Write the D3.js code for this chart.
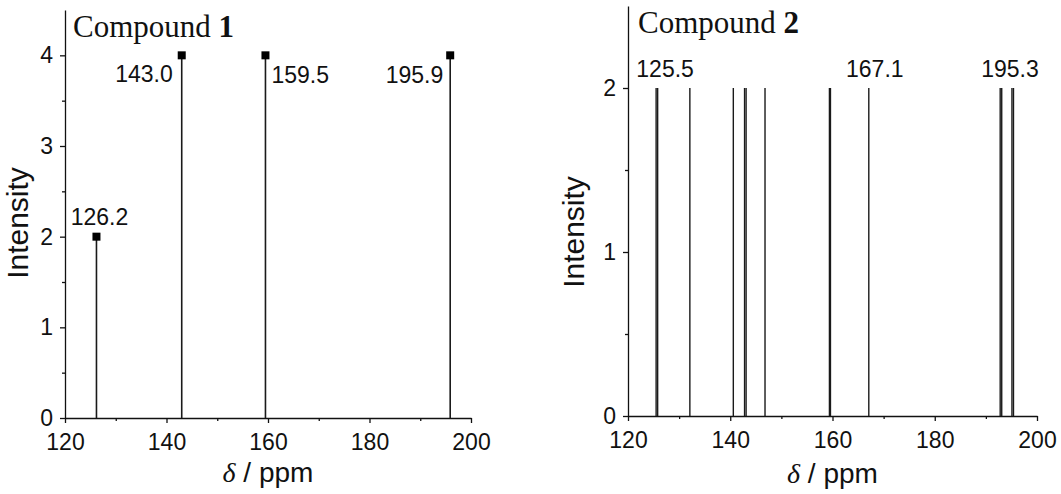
<!DOCTYPE html>
<html>
<head>
<meta charset="utf-8">
<script src="https://cdn.jsdelivr.net/npm/d3@7/dist/d3.min.js"></script>
<style>
  html, body { margin: 0; padding: 0; background: #fff; }
  svg { display: block; }
  .tick text { font-family: "Liberation Sans", Arial, sans-serif; font-size: 23px; fill: #111; }
</style>
</head>
<body>
<svg id="chart" width="1061" height="494"></svg>
<script>
// ---------- data ----------
const c1Shifts = [126.2, 143.0, 159.5, 195.9];
const c1Intensity = [2, 4, 4, 4];
const c1Labels = ["126.2", "143.0", "159.5", "195.9"];

const c2Shifts = [125.5, 125.8, 132.1, 140.6, 142.8, 143.1, 146.8, 159.4, 159.6, 167.1, 192.8, 193.1, 195.1, 195.4];
const c2Intensity = [2, 2, 2, 2, 2, 2, 2, 2, 2, 2, 2, 2, 2, 2];
const c2LabelValues = [125.5, 167.1, 195.3];
const c2Labels = ["125.5", "167.1", "195.3"];

const xMajorTicks = [120, 140, 160, 180, 200];
const xMinorTicks = [130, 150, 170, 190];
const y1MajorTicks = [0, 1, 2, 3, 4];
const y1MinorTicks = [0.5, 1.5, 2.5, 3.5];
const y2MajorTicks = [0, 1, 2];
const y2MinorTicks = [0.5, 1.5];

// ---------- drawing ----------
const svg = d3.select("#chart");
const sans = '"Liberation Sans", Arial, sans-serif';
const serif = '"Liberation Serif", "Times New Roman", serif';

function panel(opts) {
  const x = d3.scaleLinear().domain([120, 200]).range([opts.left, opts.right]);
  const y = d3.scaleLinear().domain([0, opts.yMax]).range([opts.bottom, opts.top]);
  const g = svg.append("g");

  // x axis
  g.append("g").attr("transform", `translate(0,${opts.bottom})`)
    .call(d3.axisBottom(x).tickValues(xMajorTicks).tickSize(5).tickSizeOuter(0).tickPadding(11).tickFormat(d3.format("d")))
    .call(s => s.selectAll("path,line").attr("stroke", "#111").attr("stroke-width", 1.3));
  g.append("g").attr("transform", `translate(0,${opts.bottom})`)
    .call(d3.axisBottom(x).tickValues(xMinorTicks).tickSize(3).tickSizeOuter(0).tickFormat(""))
    .call(s => { s.select("path").remove(); s.selectAll("line").attr("stroke", "#111").attr("stroke-width", 1.3); });

  // y axis
  g.append("g").attr("transform", `translate(${opts.left},0)`)
    .call(d3.axisLeft(y).tickValues(opts.yMajor).tickSize(5).tickSizeOuter(0).tickPadding(7).tickFormat(d3.format("d")))
    .call(s => s.selectAll("path,line").attr("stroke", "#111").attr("stroke-width", 1.3));
  g.append("g").attr("transform", `translate(${opts.left},0)`)
    .call(d3.axisLeft(y).tickValues(opts.yMinor).tickSize(3).tickSizeOuter(0).tickFormat(""))
    .call(s => { s.select("path").remove(); s.selectAll("line").attr("stroke", "#111").attr("stroke-width", 1.3); });

  // stems
  const pts = opts.shifts.map((v, i) => ({ v, h: opts.intens[i] }));
  g.append("g").selectAll("line").data(pts).join("line")
    .attr("x1", d => x(d.v)).attr("x2", d => x(d.v))
    .attr("y1", y(0)).attr("y2", d => y(d.h))
    .attr("stroke", "#1a1a1a").attr("stroke-width", opts.stemWidth);

  if (opts.markers) {
    const s = 8;
    g.append("g").selectAll("rect").data(pts).join("rect")
      .attr("x", d => x(d.v) - s / 2).attr("y", d => y(d.h) - s / 2)
      .attr("width", s).attr("height", s).attr("fill", "#000");
  }

  // compound title
  const t = g.append("text").attr("x", opts.left + opts.titleDx).attr("y", opts.titleY)
    .attr("font-family", serif).attr("font-size", 31).attr("fill", "#111");
  t.append("tspan").text("Compound ");
  t.append("tspan").attr("font-weight", "bold").text(opts.num);

  // axis titles
  const xt = g.append("text").attr("x", (opts.left + opts.right) / 2).attr("y", opts.xTitleY)
    .attr("text-anchor", "middle").attr("font-family", sans).attr("font-size", 28).attr("fill", "#111");
  xt.append("tspan").attr("font-family", serif).attr("font-style", "italic").text("δ");
  xt.append("tspan").text(" / ppm");

  g.append("text").attr("transform", `translate(${opts.yTitleX},${opts.yTitleY}) rotate(-90)`)
    .attr("text-anchor", "middle").attr("font-family", sans).attr("font-size", 30).attr("fill", "#111")
    .text("Intensity");

  return { x, y, g };
}

// Panel 1
const p1 = panel({
  left: 65, right: 471, top: 10, bottom: 418, yMax: 4.5,
  yMajor: y1MajorTicks, yMinor: y1MinorTicks,
  shifts: c1Shifts, intens: c1Intensity, stemWidth: 1.6, markers: true,
  num: "1", titleDx: 8, titleY: 37, xTitleY: 482, yTitleX: 28, yTitleY: 223
});
const lab1 = [
  { dx: 3, dy: -12, anchor: "middle" },
  { dx: -9, dy: 27, anchor: "end" },
  { dx: 6, dy: 28, anchor: "start" },
  { dx: -7, dy: 28, anchor: "end" }
];
p1.g.append("g").selectAll("text").data(c1Labels).join("text")
  .attr("x", (d, i) => p1.x(c1Shifts[i]) + lab1[i].dx)
  .attr("y", (d, i) => p1.y(c1Intensity[i]) + lab1[i].dy)
  .attr("text-anchor", (d, i) => lab1[i].anchor)
  .attr("font-family", sans).attr("font-size", 23).attr("fill", "#111")
  .text(d => d);

// Panel 2
const p2 = panel({
  left: 628, right: 1037, top: 6, bottom: 416, yMax: 2.5,
  yMajor: y2MajorTicks, yMinor: y2MinorTicks,
  shifts: c2Shifts, intens: c2Intensity, stemWidth: 1.4, markers: false,
  num: "2", titleDx: 10, titleY: 33, xTitleY: 483, yTitleX: 584, yTitleY: 232
});
const lab2dx = [9, 6, -3];
p2.g.append("g").selectAll("text").data(c2Labels).join("text")
  .attr("x", (d, i) => p2.x(c2LabelValues[i]) + lab2dx[i])
  .attr("y", () => p2.y(2) - 11)
  .attr("text-anchor", "middle")
  .attr("font-family", sans).attr("font-size", 23).attr("fill", "#111")
  .text(d => d);
</script>
</body>
</html>
